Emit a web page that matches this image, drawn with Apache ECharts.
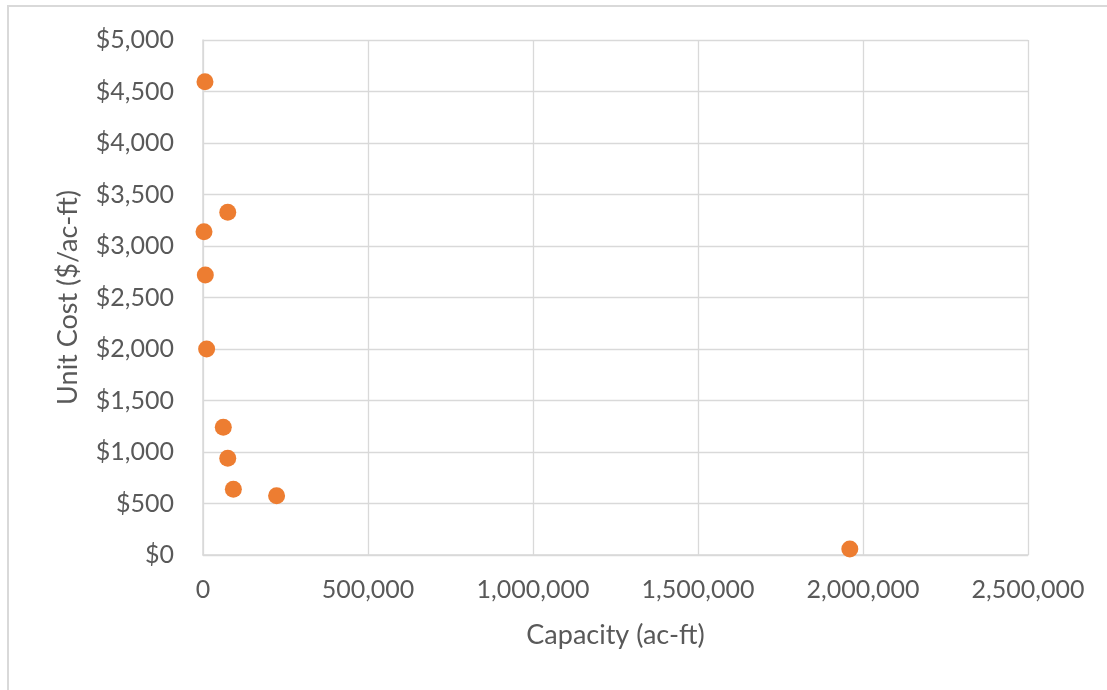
<!DOCTYPE html>
<html>
<head>
<meta charset="utf-8">
<script src="https://cdn.jsdelivr.net/npm/echarts@6/dist/echarts.min.js"></script>
<style>
  html, body { margin: 0; padding: 0; background: #fff; }
  #frame { position: absolute; left: 7px; top: 5px; width: 1120px; height: 720px;
           border-left: 2px solid #d9d9d9; border-top: 2px solid #d9d9d9; }
  #chart { position: absolute; left: 0; top: 0; width: 1107px; height: 690px; }
</style>
</head>
<body>
<div id="frame"></div>
<div id="chart"></div>
<script>
// Reservoir capacity (ac-ft) vs. unit cost ($/ac-ft)
const capacity = [6000, 75000, 3000, 7000, 11000, 61500, 75000, 92000, 223000, 1960000];
const unitCost = [4595, 3327, 3139, 2718, 2000, 1240, 939, 638, 576, 58];
const xTicks = [0, 500000, 1000000, 1500000, 2000000, 2500000];
const yTicks = [0, 500, 1000, 1500, 2000, 2500, 3000, 3500, 4000, 4500, 5000];

const points = capacity.map((c, i) => [c, unitCost[i]]);
const font = 'Lato, "Open Sans", sans-serif';
const fmt = v => v.toLocaleString('en-US');

const chart = echarts.init(document.getElementById('chart'));
chart.setOption({
  animation: false,
  grid: { left: 203, top: 40, right: 79, bottom: 135, containLabel: false },
  xAxis: {
    type: 'value',
    min: xTicks[0], max: xTicks[xTicks.length - 1], interval: 500000,
    name: 'Capacity (ac-ft)', nameLocation: 'middle', nameGap: 67,
    nameTextStyle: { color: '#595959', fontSize: 27, fontFamily: font },
    axisLine: { show: true, lineStyle: { color: '#d9d9d9', width: 1.5 } },
    axisTick: { show: false },
    axisLabel: { color: '#595959', fontSize: 25, fontFamily: font, margin: 22, formatter: fmt },
    splitLine: { show: true, lineStyle: { color: '#d9d9d9', width: 1.3 } }
  },
  yAxis: {
    type: 'value',
    min: yTicks[0], max: yTicks[yTicks.length - 1], interval: 500,
    name: 'Unit Cost ($/ac-ft)', nameLocation: 'middle', nameGap: 121,
    nameTextStyle: { color: '#595959', fontSize: 27, fontFamily: font },
    axisLine: { show: true, lineStyle: { color: '#d9d9d9', width: 1.5 } },
    axisTick: { show: false },
    axisLabel: { color: '#595959', fontSize: 25, fontFamily: font, margin: 29,
                 formatter: v => '$' + fmt(v) },
    splitLine: { show: true, lineStyle: { color: '#d9d9d9', width: 1.3 } }
  },
  series: [{
    type: 'scatter',
    data: points,
    symbol: 'circle',
    symbolSize: 17,
    itemStyle: { color: '#ED7D31', opacity: 1 }
  }]
});
</script>
</body>
</html>
